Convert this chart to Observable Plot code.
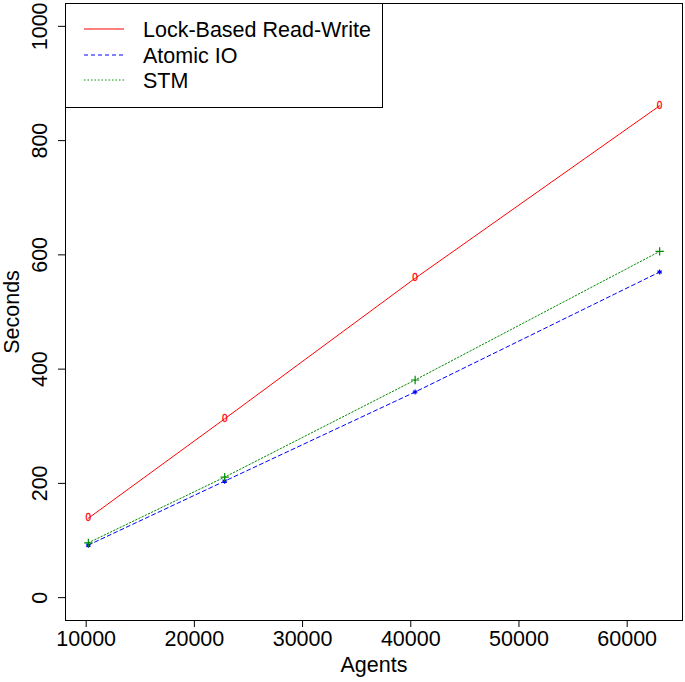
<!DOCTYPE html>
<html>
<head>
<meta charset="utf-8">
<script src="https://cdn.jsdelivr.net/npm/d3@7"></script>
<script src="https://cdn.jsdelivr.net/npm/@observablehq/plot@0.6"></script>
<style>
  html, body { margin: 0; padding: 0; background: #fff; }
  #chart { width: 685px; height: 682px; }
</style>
</head>
<body>
<div id="chart"></div>
<script>
const agents = [10201, 22801, 40401, 63001];
const lockRW = [139, 313, 559, 861];
const atomicIO = [92, 204, 360, 570];
const stm = [96, 211, 381, 606];
const seriesNames = ["Lock-Based Read-Write", "Atomic IO", "STM"];
const seriesColors = ["#ff0000", "#0000ff", "#008b00"];
const seriesDash = ["none", "4,3", "1.5,2"];
const seriesSymbols = ["0", "asterisk", "plus"];
const xTicks = [10000, 20000, 30000, 40000, 50000, 60000];
const yTicks = [0, 200, 400, 600, 800, 1000];

const values = [lockRW, atomicIO, stm];
const data = [];
values.forEach((vals, s) => vals.forEach((v, i) => data.push({series: seriesNames[s], s, x: agents[i], y: v})));

const font = "'Liberation Sans', Arial, Helvetica, sans-serif";
const fs = 21.5;

const xr = [d3.min(agents), d3.max(agents)];
const xpad = (xr[1] - xr[0]) * 0.04;
const yLim = [0, 1000];
const ypad = (yLim[1] - yLim[0]) * 0.04;

const marks = [
  Plot.frame({stroke: "#000", strokeWidth: 1}),
  Plot.axisX({ticks: xTicks, tickSize: 7, label: null, tickFormat: () => ""}),
  Plot.axisY({ticks: yTicks, tickSize: 7, label: null, tickFormat: () => ""}),
  Plot.text(xTicks, {x: d => d, text: d => String(d), frameAnchor: "bottom", dy: 19, textAnchor: "middle", lineAnchor: "middle", fontSize: fs}),
  Plot.text(yTicks, {y: d => d, text: d => String(d), frameAnchor: "left", dx: -25, rotate: -90, textAnchor: "middle", lineAnchor: "middle", fontSize: fs}),
  Plot.text(["Agents"], {frameAnchor: "bottom", dy: 45, textAnchor: "middle", lineAnchor: "middle", fontSize: fs, text: d => d}),
  Plot.text(["Seconds"], {frameAnchor: "left", dx: -53, rotate: -90, textAnchor: "middle", lineAnchor: "middle", fontSize: fs, text: d => d})
];
seriesNames.forEach((name, s) => {
  const sd = data.filter(d => d.s === s);
  marks.push(Plot.line(sd, {x: "x", y: "y", stroke: seriesColors[s], strokeWidth: 1, strokeDasharray: seriesDash[s] === "none" ? undefined : seriesDash[s]}));
  if (s === 0) {
    marks.push(Plot.text(sd, {x: "x", y: "y", text: () => seriesSymbols[s], fill: seriesColors[s], fontSize: 10, textAnchor: "middle", lineAnchor: "middle", stroke: seriesColors[s], strokeWidth: 0.3}));
  } else {
    marks.push(Plot.dot(sd, {x: "x", y: "y", symbol: () => seriesSymbols[s], stroke: seriesColors[s], r: s === 1 ? 2.4 : 2.8, strokeWidth: 1.2}));
  }
});

const chart = Plot.plot({
  width: 685,
  height: 682,
  marginLeft: 65,
  marginRight: 3,
  marginTop: 3,
  marginBottom: 62,
  style: {fontFamily: font, background: "#fff", color: "#000"},
  x: {domain: [xr[0] - xpad, xr[1] + xpad], axis: null},
  y: {domain: [yLim[0] - ypad, yLim[1] + ypad], axis: null},
  marks
});
document.getElementById("chart").appendChild(chart);

// Legend (top-left, inside plot frame)
const svg = d3.select(chart);
const lg = svg.append("g").attr("font-family", font).attr("font-size", fs).attr("text-anchor", "start");
lg.append("rect").attr("x", 65.5).attr("y", 3.5).attr("width", 317).attr("height", 104)
  .attr("fill", "#fff").attr("stroke", "#000").attr("stroke-width", 1);
const legendY = [29, 55, 80];
seriesNames.forEach((name, i) => {
  const y = legendY[i];
  lg.append("line").attr("x1", 84).attr("x2", 124).attr("y1", y).attr("y2", y)
    .style("stroke", seriesColors[i]).style("stroke-width", "1px")
    .style("stroke-dasharray", seriesDash[i]);
  lg.append("text").attr("x", 143).attr("y", y).attr("dy", "0.35em").attr("fill", "#000")
    .attr("text-anchor", "start").text(name);
});
</script>
</body>
</html>
